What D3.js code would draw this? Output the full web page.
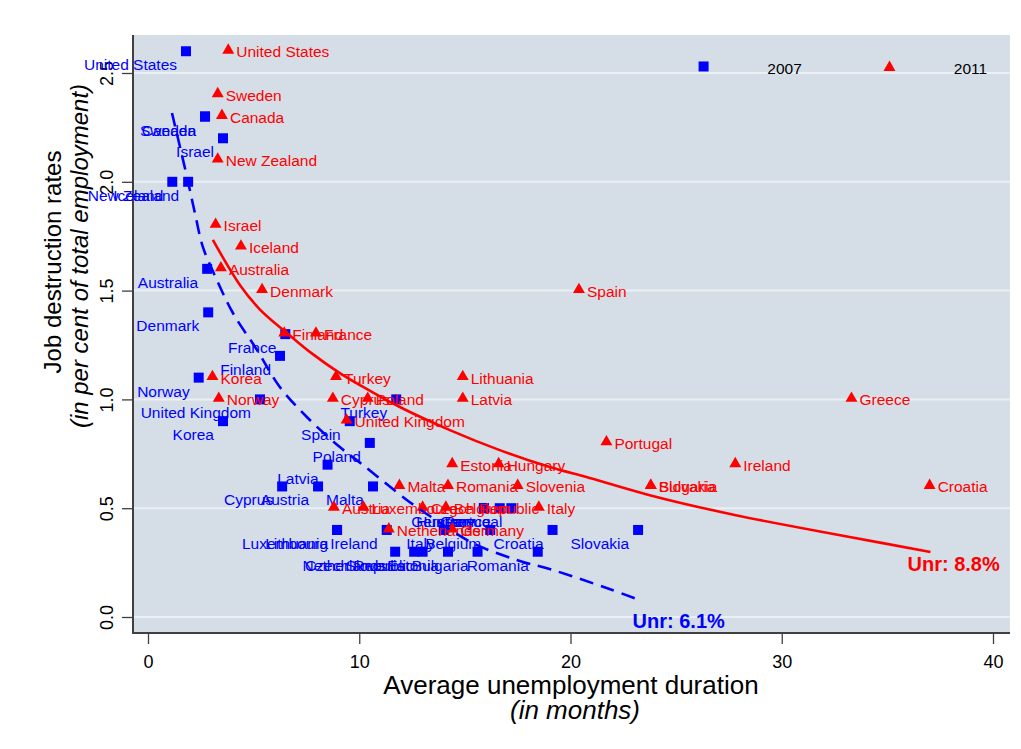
<!DOCTYPE html>
<html>
<head>
<meta charset="utf-8">
<script src="https://cdn.jsdelivr.net/npm/d3@7"></script>
<style>
  html, body { margin: 0; padding: 0; background: #ffffff; }
  svg { display: block; font-family: "Liberation Sans", Arial, sans-serif; }
</style>
</head>
<body>
<svg id="chart" width="1021" height="749"></svg>
<script>
// Job destruction rate vs. average unemployment duration, 2007 and 2011

const countries2007 = ["United States","Sweden","Canada","Israel","New Zealand","Iceland",
  "Australia","Denmark","France","Finland","Norway","United Kingdom","Turkey","Korea","Spain",
  "Poland","Latvia","Cyprus","Austria","Malta","Hungary","Germany","Greece","Portugal",
  "Luxembourg","Lithuania","Ireland","Italy","Belgium","Croatia","Slovakia",
  "Netherlands","Slovenia","Czech Republic","Estonia","Bulgaria","Romania"];
const duration2007 = [1.8,2.7,2.7,3.55,1.9,1.15,
  2.8,2.85,6.5,6.25,2.4,5.3,11.75,3.55,9.55,
  10.5,8.5,6.35,8.05,10.65,15.9,15.9,16.65,17.2,
  8.95,8.95,11.3,14.0,16.2,19.15,23.2,
  11.7,12.6,13.0,14.2,15.6,18.45];
const destruction2007 = [2.6,2.3,2.3,2.2,2.0,2.0,
  1.6,1.4,1.3,1.2,1.1,1.0,1.0,0.9,0.9,
  0.8,0.7,0.6,0.6,0.6,0.5,0.5,0.5,0.5,
  0.4,0.4,0.4,0.4,0.4,0.4,0.4,
  0.3,0.3,0.3,0.3,0.3,0.3];

const countries2011 = ["United States","Sweden","Canada","New Zealand","Israel","Iceland",
  "Australia","Denmark","Finland","France","Korea","Norway","Turkey","Cyprus","Poland",
  "United Kingdom","Lithuania","Latvia","Spain","Greece","Portugal","Ireland","Bulgaria",
  "Slovakia","Croatia","Italy","Estonia","Hungary","Malta","Romania","Slovenia","Austria",
  "Luxembourg","Czech Republic","Belgium","Netherlands","Germany"];
const duration2011 = [3.8,3.3,3.5,3.3,3.2,4.4,
  3.45,5.4,6.45,7.95,3.05,3.35,8.9,8.75,10.4,
  9.4,14.9,14.9,20.4,33.3,21.7,27.8,23.8,
  23.8,37.0,18.5,14.4,16.6,11.9,14.2,17.5,8.8,
  10.2,13.0,14.1,11.4,14.4];
const destruction2011 = [2.6,2.4,2.3,2.1,1.8,1.7,
  1.6,1.5,1.3,1.3,1.1,1.0,1.1,1.0,1.0,
  0.9,1.1,1.0,1.5,1.0,0.8,0.7,0.6,
  0.6,0.6,0.5,0.7,0.7,0.6,0.6,0.6,0.5,
  0.5,0.5,0.5,0.4,0.4];

// Iso-unemployment curves (unemployment rate 6.1% and 8.8%)
const curve61Duration = [1.135,1.845,2.22,2.6,3.26,4.02,5.16,6.24,7.52,9.08,10.17,12.25,13.48,15.37,17.46,19.16,21.71,23.27];
const curve61Rate     = [2.316,2.022,1.857,1.700,1.549,1.397,1.227,1.057,0.919,0.781,0.699,0.538,0.455,0.340,0.262,0.216,0.133,0.078];
const curve88Duration = [3.07,4.35,5.3,6.58,7.8,9.08,10.03,11.92,14.29,16.65,19.02,20.91,23.75,27.77,33.21,37.04];
const curve88Rate     = [1.733,1.526,1.413,1.305,1.208,1.121,1.066,0.965,0.859,0.767,0.689,0.639,0.560,0.469,0.368,0.299];
const curveLabels = ["Unr: 6.1%", "Unr: 8.8%"];

const xTicks = [0, 10, 20, 30, 40];
const yTicks = [0, 0.5, 1, 1.5, 2, 2.5];
const legendYears = ["2007", "2011"];
const legendPos = [[26.3, 2.53], [35.1, 2.53]];

const BLUE = "#0000ff", RED = "#ff0000";

const svg = d3.select("#chart");
const plot = { left: 133, right: 1010, top: 35, bottom: 633 };

const x = d3.scaleLinear().domain([0, 40]).range([148, 993]);
const y = d3.scaleLinear().domain([0, 2.5]).range([617, 73]);

// plot region
svg.append("rect")
  .attr("x", plot.left).attr("y", plot.top)
  .attr("width", plot.right - plot.left).attr("height", plot.bottom - plot.top)
  .attr("fill", "#d5dee6");

// horizontal grid
svg.append("g").selectAll("line").data(yTicks).join("line")
  .attr("x1", plot.left + 1).attr("x2", plot.right)
  .attr("y1", d => y(d)).attr("y2", d => y(d))
  .attr("stroke", "#eaf0f4").attr("stroke-width", 2);

// y axis
const yAxis = svg.append("g").attr("transform", `translate(${plot.left},0)`)
  .call(d3.axisLeft(y).tickValues(yTicks).tickSize(11).tickFormat(d3.format(".1f")));
yAxis.select(".domain").remove();
yAxis.selectAll(".tick line").attr("stroke", "#404040").attr("stroke-width", 1.3);
yAxis.selectAll(".tick text")
  .attr("font-family", "Liberation Sans, Arial, sans-serif")
  .attr("font-size", 18).attr("fill", "#000")
  .attr("text-anchor", "middle").attr("dy", null)
  .attr("x", 0).attr("y", 0)
  .attr("transform", "translate(-20,0) rotate(-90)");
svg.append("line")
  .attr("x1", plot.left).attr("x2", plot.left)
  .attr("y1", plot.top).attr("y2", plot.bottom + 1)
  .attr("stroke", "#404040").attr("stroke-width", 2);

// x axis
const xAxis = svg.append("g").attr("transform", `translate(0,${plot.bottom})`)
  .call(d3.axisBottom(x).tickValues(xTicks).tickSize(11));
xAxis.select(".domain").remove();
xAxis.selectAll(".tick line").attr("stroke", "#404040").attr("stroke-width", 1.3);
xAxis.selectAll(".tick text")
  .attr("font-family", "Liberation Sans, Arial, sans-serif")
  .attr("font-size", 18).attr("fill", "#000")
  .attr("y", 35).attr("dy", null);
svg.append("line")
  .attr("x1", plot.left - 1).attr("x2", plot.right)
  .attr("y1", plot.bottom).attr("y2", plot.bottom)
  .attr("stroke", "#404040").attr("stroke-width", 2);

// axis titles
svg.append("text").attr("x", 571).attr("y", 694)
  .attr("text-anchor", "middle").attr("font-size", 26)
  .text("Average unemployment duration");
svg.append("text").attr("x", 575).attr("y", 719)
  .attr("text-anchor", "middle").attr("font-size", 26).attr("font-style", "italic")
  .text("(in months)");
svg.append("text").attr("transform", "translate(61,262) rotate(-90)")
  .attr("text-anchor", "middle").attr("font-size", 24)
  .text("Job destruction rates");
svg.append("text").attr("transform", "translate(88,256) rotate(-90)")
  .attr("text-anchor", "middle").attr("font-size", 24).attr("font-style", "italic")
  .text("(in per cent of total employment)");

const pts2007 = countries2007.map((c, i) => ({ c, d: duration2007[i], r: destruction2007[i] }));
const pts2011 = countries2011.map((c, i) => ({ c, d: duration2011[i], r: destruction2011[i] }));

const square = d3.symbol().type(d3.symbolSquare).size(100);
const triangle = d3.symbol().type(d3.symbolTriangle).size(62);

// 2007: squares, labels to the lower left
const g07 = svg.append("g");
g07.selectAll("path").data(pts2007).join("path")
  .attr("d", square)
  .attr("transform", d => `translate(${x(d.d)},${y(d.r)})`)
  .attr("fill", BLUE);
g07.selectAll("text").data(pts2007).join("text")
  .attr("x", d => x(d.d) - 9).attr("y", d => y(d.r) + 19)
  .attr("text-anchor", "end").attr("font-size", 15.5).attr("fill", BLUE)
  .text(d => d.c);

// 2011: triangles, labels to the right
const g11 = svg.append("g");
g11.selectAll("path").data(pts2011).join("path")
  .attr("d", triangle)
  .attr("transform", d => `translate(${x(d.d)},${y(d.r) - 1})`)
  .attr("fill", RED);
g11.selectAll("text").data(pts2011).join("text")
  .attr("x", d => x(d.d) + 8).attr("y", d => y(d.r) + 6)
  .attr("font-size", 15.5).attr("fill", RED)
  .text(d => d.c);

// iso-unemployment curves
const line = d3.line().x(d => x(d[0])).y(d => y(d[1])).curve(d3.curveCatmullRom.alpha(0.5));
const c61 = curve61Duration.map((d, i) => [d, curve61Rate[i]]);
const c88 = curve88Duration.map((d, i) => [d, curve88Rate[i]]);
svg.append("path").attr("d", line(c61))
  .attr("fill", "none").attr("stroke", BLUE).attr("stroke-width", 2.6)
  .attr("stroke-dasharray", "14,8");
svg.append("path").attr("d", line(c88))
  .attr("fill", "none").attr("stroke", RED).attr("stroke-width", 2.6);

const end61 = c61[c61.length - 1], end88 = c88[c88.length - 1];
svg.append("text").attr("x", x(end61[0]) - 7).attr("y", y(end61[1]) + 28)
  .attr("font-size", 20).attr("font-weight", "bold").attr("fill", BLUE)
  .text(curveLabels[0]);
svg.append("text").attr("x", x(end88[0]) - 23).attr("y", y(end88[1]) + 19)
  .attr("font-size", 20).attr("font-weight", "bold").attr("fill", RED)
  .text(curveLabels[1]);

// legend
const lg = svg.append("g");
lg.append("path").attr("d", square)
  .attr("transform", `translate(${x(legendPos[0][0])},${y(legendPos[0][1])})`).attr("fill", BLUE);
lg.append("path").attr("d", triangle)
  .attr("transform", `translate(${x(legendPos[1][0])},${y(legendPos[1][1]) + 1})`).attr("fill", RED);
lg.selectAll("text").data(legendYears).join("text")
  .attr("x", (d, i) => x(legendPos[i][0]) + 81)
  .attr("y", (d, i) => y(legendPos[i][1]) + 8)
  .attr("text-anchor", "middle").attr("font-size", 15.5).attr("fill", "#000")
  .text(d => d);
</script>
</body>
</html>
